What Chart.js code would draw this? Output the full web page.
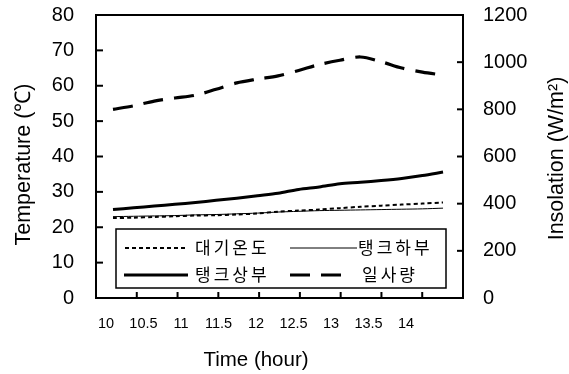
<!DOCTYPE html>
<html>
<head>
<meta charset="utf-8">
<script src="https://cdn.jsdelivr.net/npm/chart.js@4/dist/chart.umd.min.js"></script>
<style>
html,body{margin:0;padding:0;background:#fff;}
#wrap{width:569px;height:374px;}
</style>
</head>
<body>
<div id="wrap"><canvas id="c" width="569" height="374"></canvas></div>
<script>
// ---- data ----
const hours      = [10,10.25,10.5,10.75,11,11.25,11.5,11.75,12,12.25,12.5,12.75,13,13.25,13.5,13.75,14];
const airTemp    = [22.6,22.7,22.9,23.1,23.3,23.4,23.6,23.9,24.4,24.7,25.0,25.4,25.8,26.1,26.4,26.7,27.0];
const tankLower  = [23.0,23.1,23.2,23.3,23.5,23.6,23.8,24.0,24.3,24.5,24.7,24.8,24.9,25.0,25.1,25.2,25.4];
const tankUpper  = [25.0,25.5,26.0,26.5,27.0,27.6,28.2,28.9,29.6,30.7,31.4,32.3,32.7,33.2,33.8,34.6,35.6];
const insolation = [800,815,835,848,860,885,912,928,942,965,990,1008,1022,1002,975,958,945];
const xTickLabels = ['10','10.5','11','11.5','12','12.5','13','13.5','14'];
const seriesNames = ['대기온도','탱크하부','탱크상부','일사량'];
const xTitle  = 'Time (hour)';
const yTitle  = 'Temperature (℃)';
const y1Title = 'Insolation (W/m²)';

const pts = arr => hours.map((h,i)=>({x:h,y:arr[i]}));

const FONT = '"Liberation Sans", Arial, sans-serif';
Chart.defaults.font.family = FONT;
Chart.defaults.color = '#000';

const legendLayout = [
  {row:0, x0:9,   len:62, tx:79},
  {row:0, x0:174, len:67, tx:242},
  {row:1, x0:8,   len:64, tx:79},
  {row:1, x0:174, len:55, tx:246}
];

const noPad = s => { s.paddingTop = 0; s.paddingBottom = 0; s.paddingLeft = 0; s.paddingRight = 0; };

const framePlugin = {
  id:'framePlugin',
  afterDatasetsDraw(chart){
    const {ctx, chartArea:a, scales} = chart;
    ctx.save();
    ctx.strokeStyle = '#000';
    ctx.lineWidth = 2;
    ctx.setLineDash([]);
    const line=(x1,y1,x2,y2)=>{ctx.beginPath();ctx.moveTo(x1,y1);ctx.lineTo(x2,y2);ctx.stroke();};
    scales.y.ticks.forEach(t=>{const p=scales.y.getPixelForValue(t.value); line(a.left,p,a.left+7,p);});
    scales.y1.ticks.forEach(t=>{const p=scales.y1.getPixelForValue(t.value); line(a.right-6,p,a.right,p);});
    const n = xTickLabels.length;
    for(let i=1;i<n;i++){const p=a.left+i*(a.right-a.left)/n; line(p,a.bottom-6,p,a.bottom);}
    ctx.strokeRect(a.left,a.top,a.right-a.left,a.bottom-a.top);

    // axis titles
    ctx.fillStyle='#000';
    ctx.textAlign='center';
    ctx.textBaseline='alphabetic';
    ctx.font='20.5px '+FONT;
    const xl = scales.xl;
    const xMid = xl.getPixelForValue((parseFloat(xTickLabels[0])+parseFloat(xTickLabels[n-1]))/2);
    ctx.fillText(xTitle, xMid, 366);
    ctx.font='21.5px '+FONT;
    ctx.save(); ctx.translate(30, (a.top+a.bottom)/2+8); ctx.rotate(-Math.PI/2); ctx.fillText(yTitle,0,0); ctx.restore();
    ctx.save(); ctx.translate(563, (a.top+a.bottom)/2+2); ctx.rotate(-Math.PI/2); ctx.fillText(y1Title,0,0); ctx.restore();

    // legend box inside plot
    const bx=a.left+20, by=a.bottom-69, bw=(a.right-17)-bx, bh=59;
    ctx.fillStyle='#fff';
    ctx.fillRect(bx,by,bw,bh);
    ctx.lineWidth=1.5;
    ctx.strokeRect(bx,by,bw,bh);
    ctx.font='17px "Noto Sans CJK KR", sans-serif';
    ctx.textBaseline='middle';
    ctx.textAlign='left';
    if ('letterSpacing' in ctx) ctx.letterSpacing='3px';
    chart.data.datasets.forEach((ds,i)=>{
      const L=legendLayout[i];
      const y=by+19+L.row*27;
      ctx.strokeStyle=ds.borderColor;
      ctx.lineWidth=ds.borderWidth;
      ctx.setLineDash(ds.borderDash||[]);
      line(bx+L.x0,y,bx+L.x0+L.len,y);
      ctx.setLineDash([]);
      ctx.fillStyle='#000';
      ctx.fillText(ds.label,bx+L.tx,y);
    });
    ctx.restore();
  }
};

new Chart(document.getElementById('c'),{
  type:'line',
  data:{datasets:[
    {label:seriesNames[0],data:pts(airTemp),borderColor:'#000',borderWidth:2,borderDash:[4,3],yAxisID:'y',xAxisID:'x'},
    {label:seriesNames[1],data:pts(tankLower),borderColor:'#000',borderWidth:1,yAxisID:'y',xAxisID:'x'},
    {label:seriesNames[2],data:pts(tankUpper),borderColor:'#000',borderWidth:3,yAxisID:'y',xAxisID:'x'},
    {label:seriesNames[3],data:pts(insolation),borderColor:'#000',borderWidth:3.2,borderDash:[20,11],yAxisID:'y1',xAxisID:'x'}
  ]},
  options:{
    responsive:false,
    animation:false,
    devicePixelRatio:1,
    layout:{padding:{top:15,left:0,right:0,bottom:0}},
    elements:{point:{radius:0},line:{tension:0.3,fill:false}},
    plugins:{legend:{display:false},tooltip:{enabled:false}},
    scales:{
      x:{type:'linear',display:false,min:9.794,max:14.242},
      xl:{type:'linear',position:'bottom',min:9.867,max:14.76,
        grid:{display:false,drawTicks:false},border:{display:false},
        afterBuildTicks:s=>{s.ticks=xTickLabels.map(v=>({value:parseFloat(v)}));},
        ticks:{font:{size:14.5},padding:17,maxRotation:0,autoSkip:false,
          callback:(v)=>xTickLabels.find(t=>parseFloat(t)===v)},
        title:{display:false},
        afterFit:s=>{s.height=76; noPad(s);}
      },
      y:{type:'linear',position:'left',min:0,max:80,
        grid:{display:false,drawTicks:false},border:{display:false},
        ticks:{stepSize:10,font:{size:20},padding:22,callback:v=>String(v)},
        title:{display:false},
        afterFit:s=>{s.width=96; noPad(s);}
      },
      y1:{type:'linear',position:'right',min:0,max:1200,
        grid:{display:false,drawTicks:false},border:{display:false},
        ticks:{stepSize:200,font:{size:20},padding:20,callback:v=>String(v)},
        title:{display:false},
        afterFit:s=>{s.width=106; noPad(s);}
      }
    }
  },
  plugins:[framePlugin]
});
</script>
</body>
</html>
